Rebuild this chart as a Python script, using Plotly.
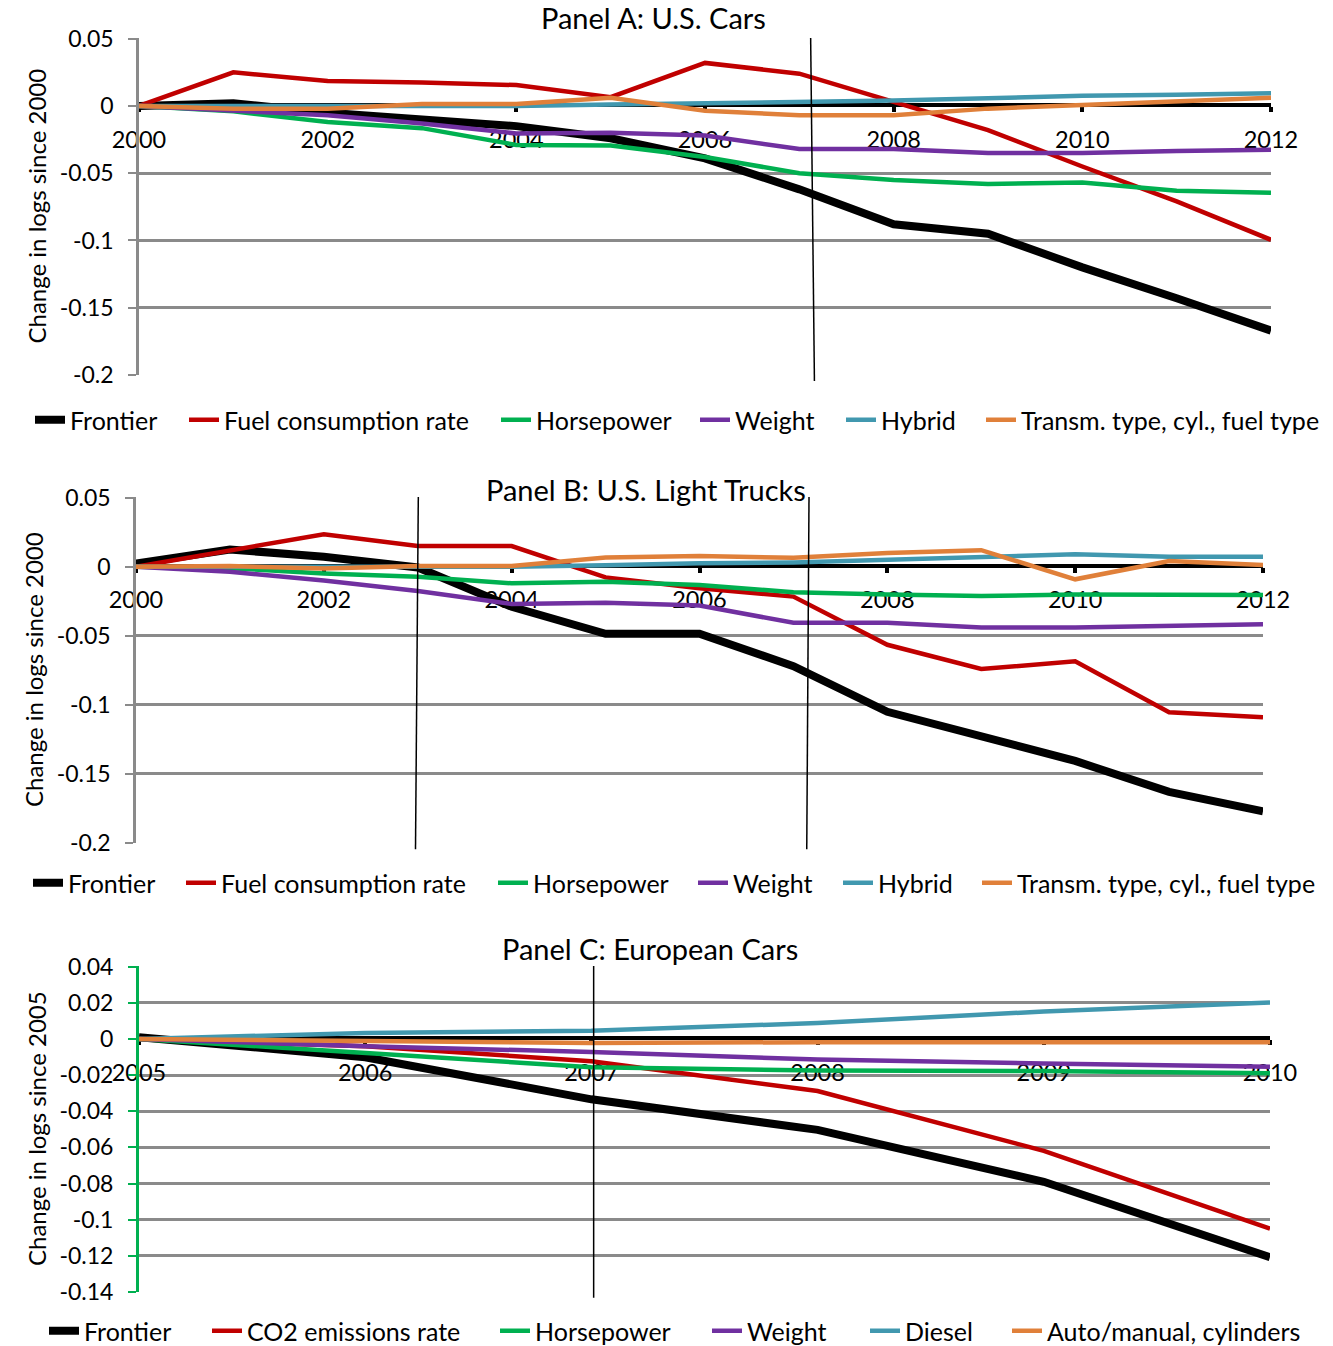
import plotly.graph_objects as go

# ---------------- data ----------------
YEARS_US = [2000, 2001, 2002, 2003, 2004, 2005, 2006, 2007, 2008, 2009, 2010, 2011, 2012]
YEARS_EU = [2005, 2006, 2007, 2008, 2009, 2010]

# Panel A: U.S. Cars
A_FRONTIER = [0.0, 0.002, -0.005, -0.010, -0.015, -0.024, -0.039, -0.062, -0.088, -0.095, -0.120, -0.143, -0.167]
A_FUEL = [0.0, 0.025, 0.0185, 0.0175, 0.0155, 0.0065, 0.032, 0.024, 0.003, -0.018, -0.045, -0.071, -0.0995]
A_HP = [0.0, -0.004, -0.012, -0.0165, -0.029, -0.0295, -0.038, -0.050, -0.055, -0.058, -0.057, -0.063, -0.0645]
A_WEIGHT = [0.0, -0.0035, -0.007, -0.013, -0.0205, -0.020, -0.022, -0.032, -0.032, -0.035, -0.035, -0.0335, -0.0325]
A_HYBRID = [0.0, 0.0, 0.0, 0.0, 0.0, 0.001, 0.002, 0.0025, 0.004, 0.0057, 0.0076, 0.0084, 0.0094]
A_TRANSM = [0.0, -0.002, -0.002, 0.0015, 0.0015, 0.006, -0.0035, -0.007, -0.007, -0.002, 0.0007, 0.003, 0.006]

# Panel B: U.S. Light Trucks
B_FRONTIER = [0.0024, 0.0125, 0.0072, -0.0005, -0.029, -0.0485, -0.0485, -0.072, -0.105, -0.1226, -0.1406, -0.163, -0.177]
B_FUEL = [0.0, 0.0115, 0.0236, 0.015, 0.015, -0.0077, -0.0156, -0.0216, -0.0565, -0.074, -0.0685, -0.1053, -0.109]
B_HP = [0.0, -0.001, -0.0048, -0.0072, -0.012, -0.0108, -0.0132, -0.0185, -0.020, -0.0212, -0.020, -0.020, -0.0204]
B_WEIGHT = [0.0, -0.0036, -0.010, -0.0175, -0.027, -0.026, -0.028, -0.0406, -0.0406, -0.044, -0.044, -0.043, -0.0416]
B_HYBRID = [0.0, 0.0, 0.0, 0.0, 0.0, 0.001, 0.0025, 0.003, 0.005, 0.0077, 0.009, 0.0072, 0.0072]
B_TRANSM = [0.0, 0.0005, -0.0012, 0.0005, 0.0005, 0.0067, 0.0077, 0.0065, 0.010, 0.012, -0.0091, 0.0041, 0.0012]

# Panel C: European Cars
C_FRONTIER = [0.001, -0.0101, -0.0334, -0.0503, -0.079, -0.1207]
C_CO2 = [0.0, -0.004, -0.0123, -0.0288, -0.0619, -0.105]
C_HP = [0.0, -0.0077, -0.0156, -0.0175, -0.0178, -0.019]
C_WEIGHT = [0.0, -0.004, -0.0072, -0.0114, -0.0136, -0.0154]
C_DIESEL = [0.0, 0.0033, 0.0046, 0.0088, 0.0152, 0.0202]
C_AUTO = [0.0, -0.0013, -0.0022, -0.0018, -0.0018, -0.0018]

NAMES_US = ["Frontier", "Fuel consumption rate", "Horsepower", "Weight", "Hybrid",
            "Transm. type, cyl., fuel type"]
NAMES_EU = ["Frontier", "CO2 emissions rate", "Horsepower", "Weight", "Diesel",
            "Auto/manual, cylinders"]

# tick labels
US_XTICKS = [2000, 2002, 2004, 2006, 2008, 2010, 2012]
US_XTICKTEXT = ["2000", "2002", "2004", "2006", "2008", "2010", "2012"]
EU_XTICKS = [2005, 2006, 2007, 2008, 2009, 2010]
EU_XTICKTEXT = ["2005", "2006", "2007", "2008", "2009", "2010"]
US_YTICKS = [0.05, 0, -0.05, -0.1, -0.15, -0.2]
US_YTICKTEXT = ["0.05", "0", "-0.05", "-0.1", "-0.15", "-0.2"]
EU_YTICKS = [0.04, 0.02, 0, -0.02, -0.04, -0.06, -0.08, -0.1, -0.12, -0.14]
EU_YTICKTEXT = ["0.04", "0.02", "0", "-0.02", "-0.04", "-0.06", "-0.08", "-0.1", "-0.12", "-0.14"]

# vertical marker lines (year positions; top, bottom)
A_VLINES = [(2007.12, 2007.16)]
B_VLINES = [(2003.006, 2002.976), (2007.166, 2007.142)]
C_VLINES = [(2007.01, 2007.01)]

# ---------------- style / layout (pixels) ----------------
COLORS = ["#000000", "#C00000", "#00B050", "#7030A0", "#4198AF", "#E0803A"]
WIDTHS = [8, 4.5, 4.5, 4.5, 4.5, 4.5]
FONT = "Lato"
GRID = "#8A8A8A"
W, H = 1333, 1346

# x pixel where each legend entry's text starts
A_LEG_TEXT_X = [70, 224, 536, 735, 881, 1021]
B_LEG_TEXT_X = [68, 221, 533, 733, 878, 1017]
C_LEG_TEXT_X = [84, 247, 535, 747, 905, 1047]


def px_x(p):
    return p / W


def px_y(p):
    return 1 - p / H


fig = go.Figure()

panels = [
    dict(key="", years=YEARS_US, series=[A_FRONTIER, A_FUEL, A_HP, A_WEIGHT, A_HYBRID, A_TRANSM],
         names=NAMES_US, xdom=(139, 1271), ydom=(38, 375),
         xr=[2000, 2012], yr=[-0.2, 0.05], xt=US_XTICKS, xtt=US_XTICKTEXT,
         yt=US_YTICKS, ytt=US_YTICKTEXT, ylinecolor=GRID, vlines=A_VLINES,
         title="Panel A: U.S. Cars", tpos=(653, 18), ytitle="Change in logs since 2000", ytx=36,
         legy=420, legx=A_LEG_TEXT_X),
    dict(key="2", years=YEARS_US, series=[B_FRONTIER, B_FUEL, B_HP, B_WEIGHT, B_HYBRID, B_TRANSM],
         names=NAMES_US, xdom=(136, 1263), ydom=(497, 843),
         xr=[2000, 2012], yr=[-0.2, 0.05], xt=US_XTICKS, xtt=US_XTICKTEXT,
         yt=US_YTICKS, ytt=US_YTICKTEXT, ylinecolor=GRID, vlines=B_VLINES,
         title="Panel B: U.S. Light Trucks", tpos=(646, 489), ytitle="Change in logs since 2000", ytx=33,
         legy=883, legx=B_LEG_TEXT_X),
    dict(key="3", years=YEARS_EU, series=[C_FRONTIER, C_CO2, C_HP, C_WEIGHT, C_DIESEL, C_AUTO],
         names=NAMES_EU, xdom=(139, 1270), ydom=(966, 1292),
         xr=[2005, 2010], yr=[-0.14, 0.04], xt=EU_XTICKS, xtt=EU_XTICKTEXT,
         yt=EU_YTICKS, ytt=EU_YTICKTEXT, ylinecolor="#00B050", vlines=C_VLINES,
         title="Panel C: European Cars", tpos=(650, 948), ytitle="Change in logs since 2005", ytx=36,
         legy=1331, legx=C_LEG_TEXT_X),
]

layout = dict(
    width=W, height=H, autosize=False, showlegend=True,
    margin=dict(l=0, r=0, t=0, b=0, pad=0, autoexpand=False),
    paper_bgcolor="white", plot_bgcolor="white",
    font=dict(family=FONT, size=23, color="black"),
    shapes=[], annotations=[],
)

leg_idx = 0
for p in panels:
    k = p["key"]
    xa, ya = "x" + k, "y" + k
    for s, name, c, w, tx in zip(p["series"], p["names"], COLORS, WIDTHS, p["legx"]):
        leg_idx += 1
        lname = "legend" if leg_idx == 1 else "legend%d" % leg_idx
        fig.add_trace(go.Scatter(
            x=p["years"], y=s, name=name, mode="lines",
            line=dict(color=c, width=w), showlegend=True,
            xaxis=xa, yaxis=ya, legend=lname))
        layout[lname] = dict(
            orientation="h", x=px_x(tx - 40), xanchor="left", y=px_y(p["legy"]), yanchor="middle",
            font=dict(size=25, family=FONT, color="black"), bgcolor="rgba(0,0,0,0)",
            borderwidth=0, itemwidth=30, visible=True)

    ydom = (px_y(p["ydom"][1]), px_y(p["ydom"][0]))
    xdom = (px_x(p["xdom"][0]), px_x(p["xdom"][1]))
    y0, y1 = p["yr"]
    zero_frac = (0 - y0) / (y1 - y0)
    zero_pos = ydom[0] + zero_frac * (ydom[1] - ydom[0])
    eps = (y1 - y0) * 0.002

    layout["xaxis" + k] = dict(
        domain=list(xdom), range=p["xr"], anchor="free", position=zero_pos,
        tickvals=p["xt"], ticktext=p["xtt"], ticks="outside", ticklen=5, tickwidth=4,
        tickcolor="black", showline=True, linecolor="black", linewidth=4,
        showgrid=False, zeroline=False, layer="below traces", automargin=False,
        ticklabelstandoff=7, tickfont=dict(size=23.5, color="black", family=FONT),
    )
    layout["yaxis" + k] = dict(
        domain=list(ydom), range=[y0, y1 + eps], anchor=xa,
        tickvals=p["yt"], ticktext=p["ytt"], ticks="outside", ticklen=8, tickwidth=2,
        tickcolor=p["ylinecolor"], showline=True, linecolor=p["ylinecolor"],
        linewidth=2.5 if k != "3" else 3, automargin=False,
        showgrid=True, gridcolor=GRID, gridwidth=2.5, zeroline=False,
        ticklabelstandoff=10, tickfont=dict(size=23, color="black", family=FONT),
    )
    for (xt_, xb_) in p["vlines"]:
        layout["shapes"].append(dict(
            type="line", xref=xa, yref=ya + " domain", x0=xt_, x1=xb_, y0=1.0, y1=-0.018,
            line=dict(color="black", width=1.5), layer="above"))
    layout["annotations"].append(dict(
        text=p["title"], x=px_x(p["tpos"][0]), y=px_y(p["tpos"][1]), xref="paper", yref="paper",
        xanchor="center", yanchor="middle", showarrow=False, font=dict(size=29, family=FONT)))
    layout["annotations"].append(dict(
        text=p["ytitle"], x=px_x(p["ytx"]), y=(ydom[0] + ydom[1]) / 2, xref="paper", yref="paper",
        xanchor="center", yanchor="middle", textangle=-90, showarrow=False,
        font=dict(size=24, family=FONT)))

fig.update_layout(**layout)
fig.write_html("out.html", config={"displayModeBar": False},
               post_script="document.body.style.margin='0px';")
